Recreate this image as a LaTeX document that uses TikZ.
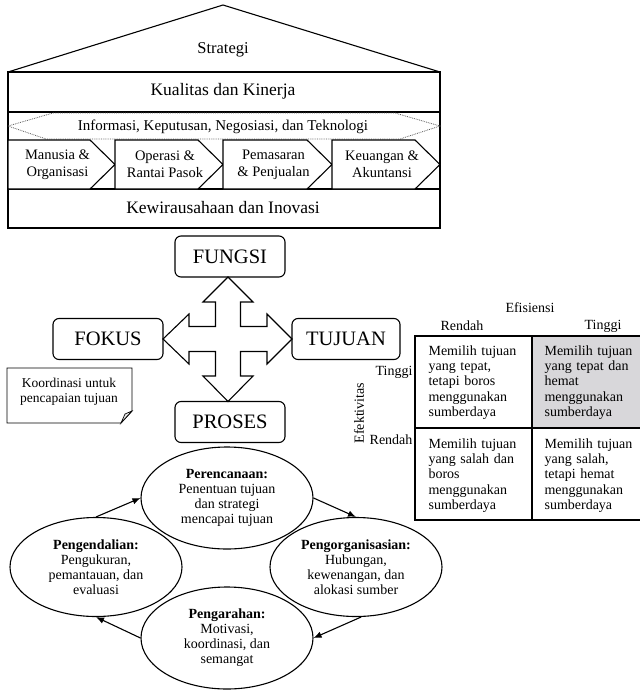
\documentclass[tikz,border=0pt]{standalone}
\usepackage{fontspec}
\setmainfont{Liberation Serif}
\definecolor{cellGrey}{RGB}{216, 215, 218}
\definecolor{dotGrey}{RGB}{90, 90, 90}
\usepackage{tikz}
\usetikzlibrary{shapes,arrows,positioning,calc,arrows.meta}

\tikzset{
  bigBox/.style={draw, rounded corners=6pt, minimum width=110pt, minimum height=41pt, inner sep=2pt, font=\fontsize{20.5}{24}\selectfont},
  chevText/.style={align=center, inner sep=0pt, font=\fontsize{14.5}{17}\selectfont},
  cellText/.style={align=left, text width=100pt, inner sep=0pt, anchor=west, font=\fontsize{14}{15.4}\selectfont},
  smallText/.style={inner sep=1pt, font=\fontsize{14}{15}\selectfont},
  ovalNode/.style={draw, fill=white, ellipse, minimum width=172pt, minimum height=102pt, inner sep=0pt, align=center, font=\fontsize{14}{15}\selectfont},
  cycleArrow/.style={-{Latex[length=8pt,width=6.5pt]}},
}

\begin{document}
\begin{tikzpicture}[x=1pt,y=-1pt,line width=1.1pt]
  \useasboundingbox (0,0) rectangle (640,691);

  % House: roof and frame
  \draw (8,72) -- (223,5) -- (440,72);
  \draw (8,72) rectangle (440,228);
  \draw (8,112) -- (440,112);
  \draw (8,189) -- (440,189);
  \draw[densely dotted, dotGrey, line width=0.8pt] (8,126) -- (53,113) -- (395,113) -- (440,126) -- (400,139) -- (46,139) -- cycle;

  \node[font=\fontsize{16.5}{20}\selectfont] (strategi) at (223,50) {Strategi};
  \node[font=\fontsize{17.5}{20}\selectfont] (kualitas) at (223,91) {Kualitas dan Kinerja};
  \node[font=\fontsize{15}{18}\selectfont] (informasi) at (223,127) {Informasi, Keputusan, Negosiasi, dan Teknologi};
  \node[font=\fontsize{17.5}{20}\selectfont] (kewirausahaan) at (223,208) {Kewirausahaan dan Inovasi};

  % Chevrons
  \foreach \xl/\xr/\lbl [count=\i] in {8/115/{Manusia \&\\Organisasi}, 115/223/{Operasi \&\\Rantai Pasok}, 223/332/{Pemasaran\\\& Penjualan}, 332/440/{Keuangan \&\\Akuntansi}}
  {
    \draw[fill=white] (\xl,140) -- (\xr-25,140) -- (\xr,164.5) -- (\xr-25,189) -- (\xl,189) -- cycle;
    \node[chevText] (chev\i) at ({(\xl+\xr)/2-4},164.5) {\lbl};
  }

  % Four boxes and cross arrow
  \node[bigBox] (fungsi) at (230,256.5) {FUNGSI};
  \node[bigBox] (fokus) at (108,339) {FOKUS};
  \node[bigBox, minimum width=108pt] (tujuan) at (346,339) {TUJUAN};
  \node[bigBox] (proses) at (230,422) {PROSES};

  \draw (228,277) -- (253,302) -- (240.5,302) -- (240.5,326.5) -- (267,326.5) -- (267,314)
    -- (292,339) -- (267,364) -- (267,351.5) -- (240.5,351.5) -- (240.5,376) -- (253,376)
    -- (228,401.5) -- (203,376) -- (215.5,376) -- (215.5,351.5) -- (189,351.5) -- (189,364)
    -- (163,339) -- (189,314) -- (189,326.5) -- (215.5,326.5) -- (215.5,302) -- (203,302) -- cycle;

  % Note
  \draw[line width=0.9pt] (7,368) -- (132,368) -- (132,411) -- (121,423) -- (7,423) -- cycle;
  \draw[line width=0.7pt, fill=gray!20] (132,411) -- (125,414) -- (121,423) -- cycle;
  \node[smallText, align=center, font=\fontsize{13.5}{15}\selectfont] (koordinasi) at (69,392) {Koordinasi untuk\\pencapaian tujuan};

  % Matrix
  \fill[cellGrey] (532,336) rectangle (642,428);
  \draw (415,336) rectangle (642,520);
  \draw (532,336) -- (532,520);
  \draw (415,428) -- (642,428);

  \node[smallText] (efisiensi) at (530,308) {Efisiensi};
  \node[smallText] (colRendah) at (462,326) {Rendah};
  \node[smallText] (colTinggi) at (603,326) {Tinggi};
  \node[smallText, anchor=east] (rowTinggi) at (414,372) {Tinggi};
  \node[smallText, anchor=east] (rowRendah) at (414,440) {Rendah};
  \node[smallText, rotate=90] (efektivitas) at (359,413) {Efektivitas};

  \node[cellText] (cellTR) at (428,382.5) {Memilih tujuan\\yang tepat,\\tetapi boros\\menggunakan\\sumberdaya};
  \node[cellText] (cellTT) at (544,382.5) {Memilih tujuan\\yang tepat dan\\hemat\\menggunakan\\sumberdaya};
  \node[cellText] (cellRR) at (428,475.5) {Memilih tujuan\\yang salah dan\\boros\\menggunakan\\sumberdaya};
  \node[cellText] (cellRT) at (544,475.5) {Memilih tujuan\\yang salah,\\tetapi hemat\\menggunakan\\sumberdaya};

  % Management cycle
  \node[ovalNode] (perencanaan) at (227,498) {\textbf{Perencanaan:}\\Penentuan tujuan\\dan strategi\\mencapai tujuan};
  \node[ovalNode, minimum height=99pt] (pengendalian) at (96,567) {\textbf{Pengendalian:}\\Pengukuran,\\pemantauan, dan\\evaluasi};
  \node[ovalNode, minimum height=99pt] (pengorganisasian) at (356,567) {\textbf{Pengorganisasian:}\\Hubungan,\\kewenangan, dan\\alokasi sumber};
  \node[ovalNode] (pengarahan) at (227,638) {\textbf{Pengarahan:}\\Motivasi,\\koordinasi, dan\\semangat};

  \draw[cycleArrow] (pengendalian.north) -- (perencanaan.west);
  \draw[cycleArrow] (perencanaan.east) -- (pengorganisasian.north);
  \draw[cycleArrow] (pengorganisasian.-84) -- (pengarahan.east);
  \draw[cycleArrow] (pengarahan.west) -- (pengendalian.south);
\end{tikzpicture}
\end{document}
